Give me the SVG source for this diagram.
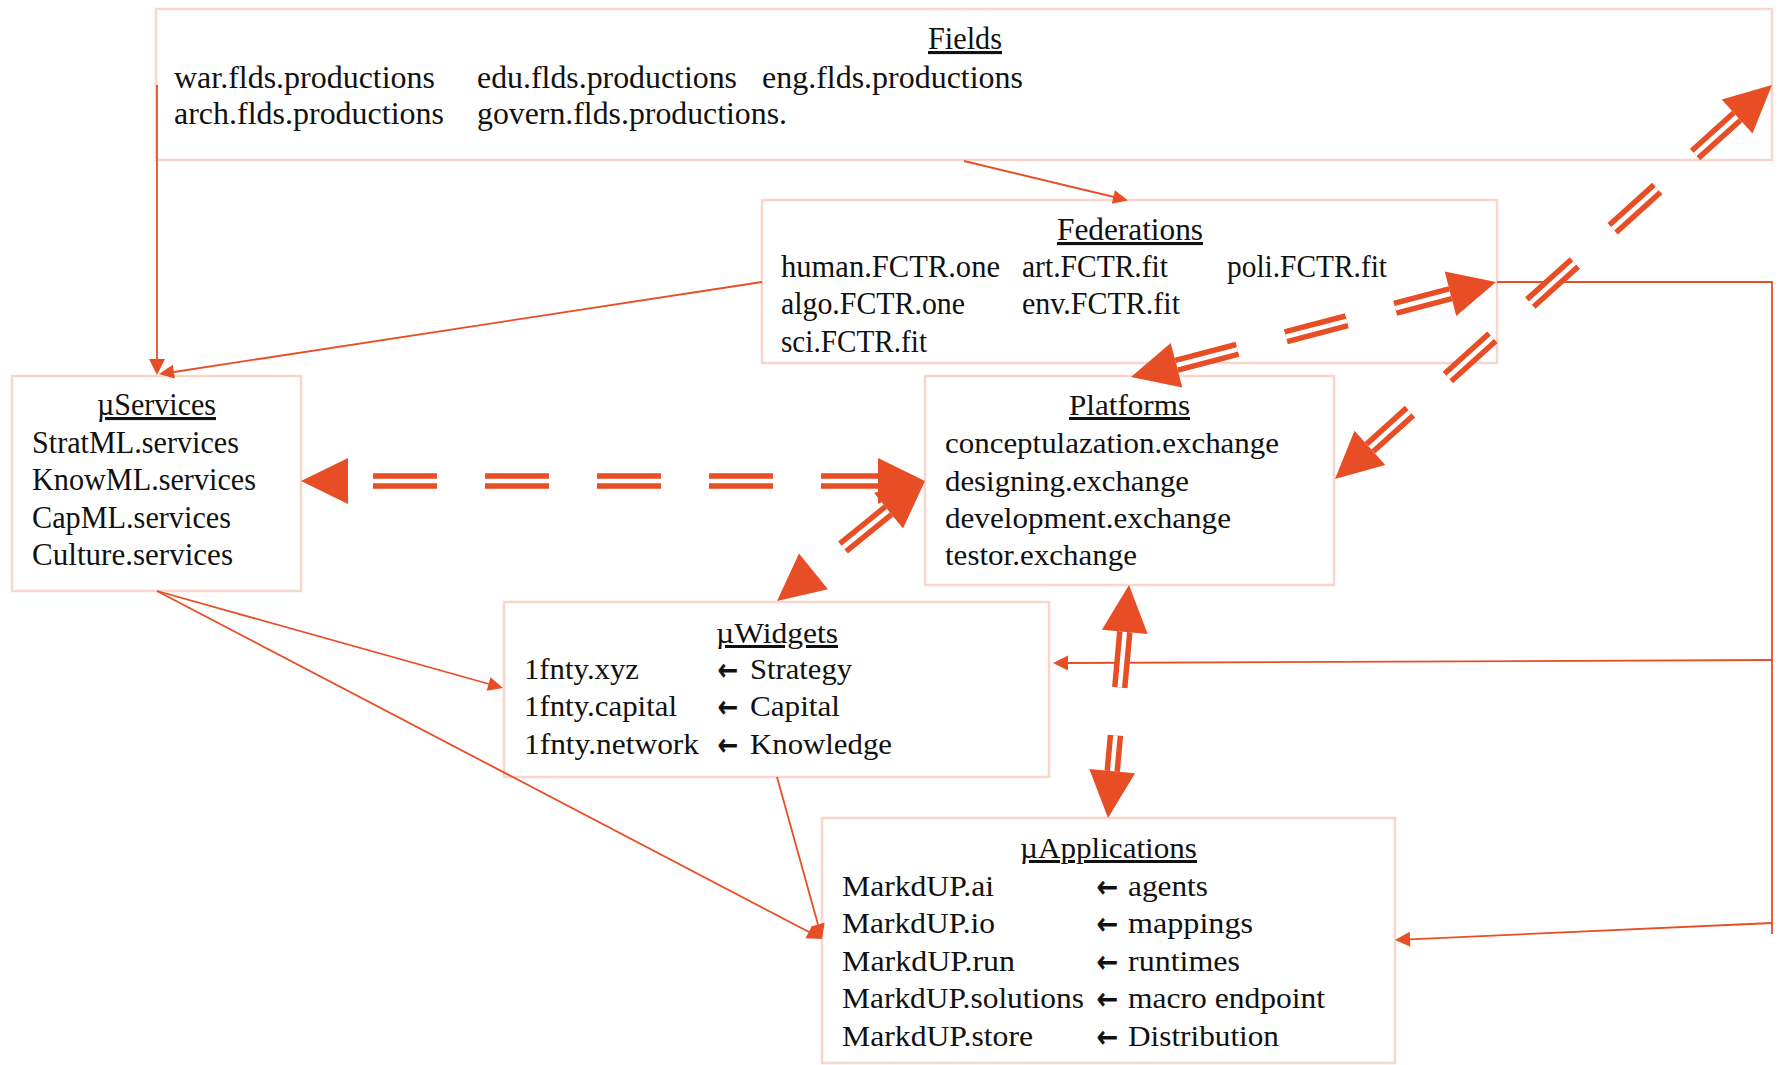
<svg xmlns="http://www.w3.org/2000/svg" width="1781" height="1065" viewBox="0 0 1781 1065">
<style>
  .box { fill: #ffffff; stroke: #f9d6cc; stroke-width: 2.5; }
  .t { font-family: "Liberation Serif", "Times New Roman", serif; font-size: 31px; fill: #111; }
  .p { font-family: "Liberation Serif", "Times New Roman", serif; font-size: 30px; fill: #111; }
  .a { font-family: "DejaVu Sans", "Liberation Sans", sans-serif; font-size: 30px; fill: #111; stroke: #111; stroke-width: 0.9; }
  .u { text-decoration: underline; }
  .thin { fill: none; stroke: #e84e25; stroke-width: 1.8; }
  .head { fill: #e84e25; stroke: none; }
  .dbl { fill: none; stroke: #e84e25; stroke-width: 15.5; stroke-linecap: butt; }
  .gap { fill: none; stroke: #ffffff; stroke-width: 4.5; stroke-linecap: butt; }
</style>

<g id="fields">
  <rect class="box" x="156" y="9" width="1616" height="151"/>
  <text class="t u" x="928" y="49" textLength="74" lengthAdjust="spacingAndGlyphs">Fields</text>
  <text class="t" x="174" y="88" textLength="261" lengthAdjust="spacingAndGlyphs">war.flds.productions</text>
  <text class="t" x="477" y="88" textLength="260" lengthAdjust="spacingAndGlyphs">edu.flds.productions</text>
  <text class="t" x="762" y="88" textLength="261" lengthAdjust="spacingAndGlyphs">eng.flds.productions</text>
  <text class="t" x="174" y="124" textLength="270" lengthAdjust="spacingAndGlyphs">arch.flds.productions</text>
  <text class="t" x="477" y="124" textLength="310" lengthAdjust="spacingAndGlyphs">govern.flds.productions.</text>
</g>

<g id="federations">
  <rect class="box" x="762" y="200" width="735" height="163"/>
  <text class="t u" x="1057" y="240" textLength="146" lengthAdjust="spacingAndGlyphs">Federations</text>
  <text class="t" x="781" y="277" textLength="219" lengthAdjust="spacingAndGlyphs">human.FCTR.one</text>
  <text class="t" x="1022" y="277" textLength="146" lengthAdjust="spacingAndGlyphs">art.FCTR.fit</text>
  <text class="t" x="1227" y="277" textLength="160" lengthAdjust="spacingAndGlyphs">poli.FCTR.fit</text>
  <text class="t" x="781" y="314" textLength="184" lengthAdjust="spacingAndGlyphs">algo.FCTR.one</text>
  <text class="t" x="1022" y="314" textLength="158" lengthAdjust="spacingAndGlyphs">env.FCTR.fit</text>
  <text class="t" x="781" y="352" textLength="146" lengthAdjust="spacingAndGlyphs">sci.FCTR.fit</text>
</g>

<g id="services">
  <rect class="box" x="12" y="376" width="289" height="215"/>
  <text class="t u" x="97" y="415" textLength="119" lengthAdjust="spacingAndGlyphs">µServices</text>
  <text class="t" x="32" y="453" textLength="207" lengthAdjust="spacingAndGlyphs">StratML.services</text>
  <text class="t" x="32" y="490" textLength="224" lengthAdjust="spacingAndGlyphs">KnowML.services</text>
  <text class="t" x="32" y="528" textLength="199" lengthAdjust="spacingAndGlyphs">CapML.services</text>
  <text class="t" x="32" y="565" textLength="201" lengthAdjust="spacingAndGlyphs">Culture.services</text>
</g>

<g id="platforms">
  <rect class="box" x="925" y="376" width="409" height="209"/>
  <text class="p u" x="1069" y="415" textLength="121" lengthAdjust="spacingAndGlyphs">Platforms</text>
  <text class="p" x="945" y="453" textLength="334" lengthAdjust="spacingAndGlyphs">conceptulazation.exchange</text>
  <text class="p" x="945" y="491" textLength="244" lengthAdjust="spacingAndGlyphs">designing.exchange</text>
  <text class="p" x="945" y="528" textLength="286" lengthAdjust="spacingAndGlyphs">development.exchange</text>
  <text class="p" x="945" y="565" textLength="192" lengthAdjust="spacingAndGlyphs">testor.exchange</text>
</g>

<g id="widgets">
  <rect class="box" x="504" y="602" width="545" height="175"/>
  <text class="p u" x="716" y="643" textLength="122" lengthAdjust="spacingAndGlyphs">µWidgets</text>
  <text class="p" x="524" y="679" textLength="115" lengthAdjust="spacingAndGlyphs">1fnty.xyz</text>
  <text class="p" x="524" y="716" textLength="153" lengthAdjust="spacingAndGlyphs">1fnty.capital</text>
  <text class="p" x="524" y="754" textLength="175" lengthAdjust="spacingAndGlyphs">1fnty.network</text>
  <text class="a" x="718" y="680" textLength="20" lengthAdjust="spacingAndGlyphs">←</text>
  <text class="a" x="718" y="717" textLength="20" lengthAdjust="spacingAndGlyphs">←</text>
  <text class="a" x="718" y="755" textLength="20" lengthAdjust="spacingAndGlyphs">←</text>
  <text class="p" x="750" y="679" textLength="102" lengthAdjust="spacingAndGlyphs">Strategy</text>
  <text class="p" x="750" y="716" textLength="90" lengthAdjust="spacingAndGlyphs">Capital</text>
  <text class="p" x="750" y="754" textLength="142" lengthAdjust="spacingAndGlyphs">Knowledge</text>
</g>

<g id="applications">
  <rect class="box" x="822" y="818" width="573" height="245"/>
  <text class="p u" x="1020" y="858" textLength="177" lengthAdjust="spacingAndGlyphs">µApplications</text>
  <text class="p" x="842" y="896" textLength="152" lengthAdjust="spacingAndGlyphs">MarkdUP.ai</text>
  <text class="p" x="842" y="933" textLength="153" lengthAdjust="spacingAndGlyphs">MarkdUP.io</text>
  <text class="p" x="842" y="971" textLength="173" lengthAdjust="spacingAndGlyphs">MarkdUP.run</text>
  <text class="p" x="842" y="1008" textLength="242" lengthAdjust="spacingAndGlyphs">MarkdUP.solutions</text>
  <text class="p" x="842" y="1046" textLength="191" lengthAdjust="spacingAndGlyphs">MarkdUP.store</text>
  <text class="a" x="1097" y="897" textLength="21" lengthAdjust="spacingAndGlyphs">←</text>
  <text class="a" x="1097" y="934" textLength="21" lengthAdjust="spacingAndGlyphs">←</text>
  <text class="a" x="1097" y="972" textLength="21" lengthAdjust="spacingAndGlyphs">←</text>
  <text class="a" x="1097" y="1009" textLength="21" lengthAdjust="spacingAndGlyphs">←</text>
  <text class="a" x="1097" y="1047" textLength="21" lengthAdjust="spacingAndGlyphs">←</text>
  <text class="p" x="1128" y="896" textLength="80" lengthAdjust="spacingAndGlyphs">agents</text>
  <text class="p" x="1128" y="933" textLength="125" lengthAdjust="spacingAndGlyphs">mappings</text>
  <text class="p" x="1128" y="971" textLength="112" lengthAdjust="spacingAndGlyphs">runtimes</text>
  <text class="p" x="1128" y="1008" textLength="197" lengthAdjust="spacingAndGlyphs">macro endpoint</text>
  <text class="p" x="1128" y="1046" textLength="151" lengthAdjust="spacingAndGlyphs">Distribution</text>
</g>

<g id="connectors">
  <!-- thin connectors -->
  <path class="thin" d="M157 85 V360"/>
  <polygon class="head" points="157,375 149,359 165,359"/>
  <path class="thin" d="M964 161 L1114 197"/>
  <polygon class="head" points="1128,200.5 1111.8,203.8 1115,190.2"/>
  <path class="thin" d="M762 282 L174 372"/>
  <polygon class="head" points="159,374 174.9,378.6 172.8,364.8"/>
  <path class="thin" d="M1497 282 H1772 V934"/>
  <path class="thin" d="M1772 660 L1068 663"/>
  <polygon class="head" points="1053,663 1068,655.5 1068,670.5"/>
  <path class="thin" d="M1772 923 L1410 939.3"/>
  <polygon class="head" points="1395,940 1410.3,946.8 1409.7,931.8"/>
  <path class="thin" d="M157 591 L489 684"/>
  <polygon class="head" points="503,688 486.7,690.7 490.5,677.3"/>
  <path class="thin" d="M157 591 L809 932"/>
  <polygon class="head" points="822,939 805.5,938.2 812,925.8"/>
  <path class="thin" d="M777 777 L818 924.5"/>
  <polygon class="head" points="822,939 811.2,926.4 824.7,922.6"/>

  <!-- thick double connectors -->
  <path class="dbl" d="M348 481 H878" stroke-dasharray="64 48" stroke-dashoffset="87"/>
  <path class="gap" d="M348 481 H878" stroke-dasharray="64 48" stroke-dashoffset="87"/>
  <polygon class="head" points="301,481 348,458 348,504"/>
  <polygon class="head" points="925,481 878,458 878,504"/>

  <path class="dbl" d="M1176.5 365.2 L1450.5 293.8" stroke-dasharray="63 50"/>
  <path class="gap" d="M1176.5 365.2 L1450.5 293.8" stroke-dasharray="63 50"/>
  <polygon class="head" points="1131,377 1182.3,387.5 1170.7,342.9"/>
  <polygon class="head" points="1496,282 1456.3,316.1 1444.7,271.5"/>

  <path class="dbl" d="M1369.9 447.8 L1737.1 116.5" stroke-dasharray="60 51" stroke-dashoffset="6"/>
  <path class="gap" d="M1369.9 447.8 L1737.1 116.5" stroke-dasharray="60 51" stroke-dashoffset="6"/>
  <polygon class="head" points="1335,479 1385.3,464.9 1354.5,430.7"/>
  <polygon class="head" points="1772,85 1752.5,133.6 1721.7,99.4"/>

  <path class="dbl" d="M843 547.5 L888.5 510.6"/>
  <path class="gap" d="M843 547.5 L888.5 510.6"/>
  <polygon class="head" points="777,601 828,589.3 799,553.5"/>
  <polygon class="head" points="925,481 903,528.5 874,492.7"/>

  <path class="dbl" d="M1124.8 631.8 L1112.2 771.2" stroke-dasharray="56 48"/>
  <path class="gap" d="M1124.8 631.8 L1112.2 771.2" stroke-dasharray="56 48"/>
  <polygon class="head" points="1129,585 1147.7,633.9 1101.9,629.7"/>
  <polygon class="head" points="1108,818 1135.1,773.3 1089.3,769.1"/>
</g>
</svg>
